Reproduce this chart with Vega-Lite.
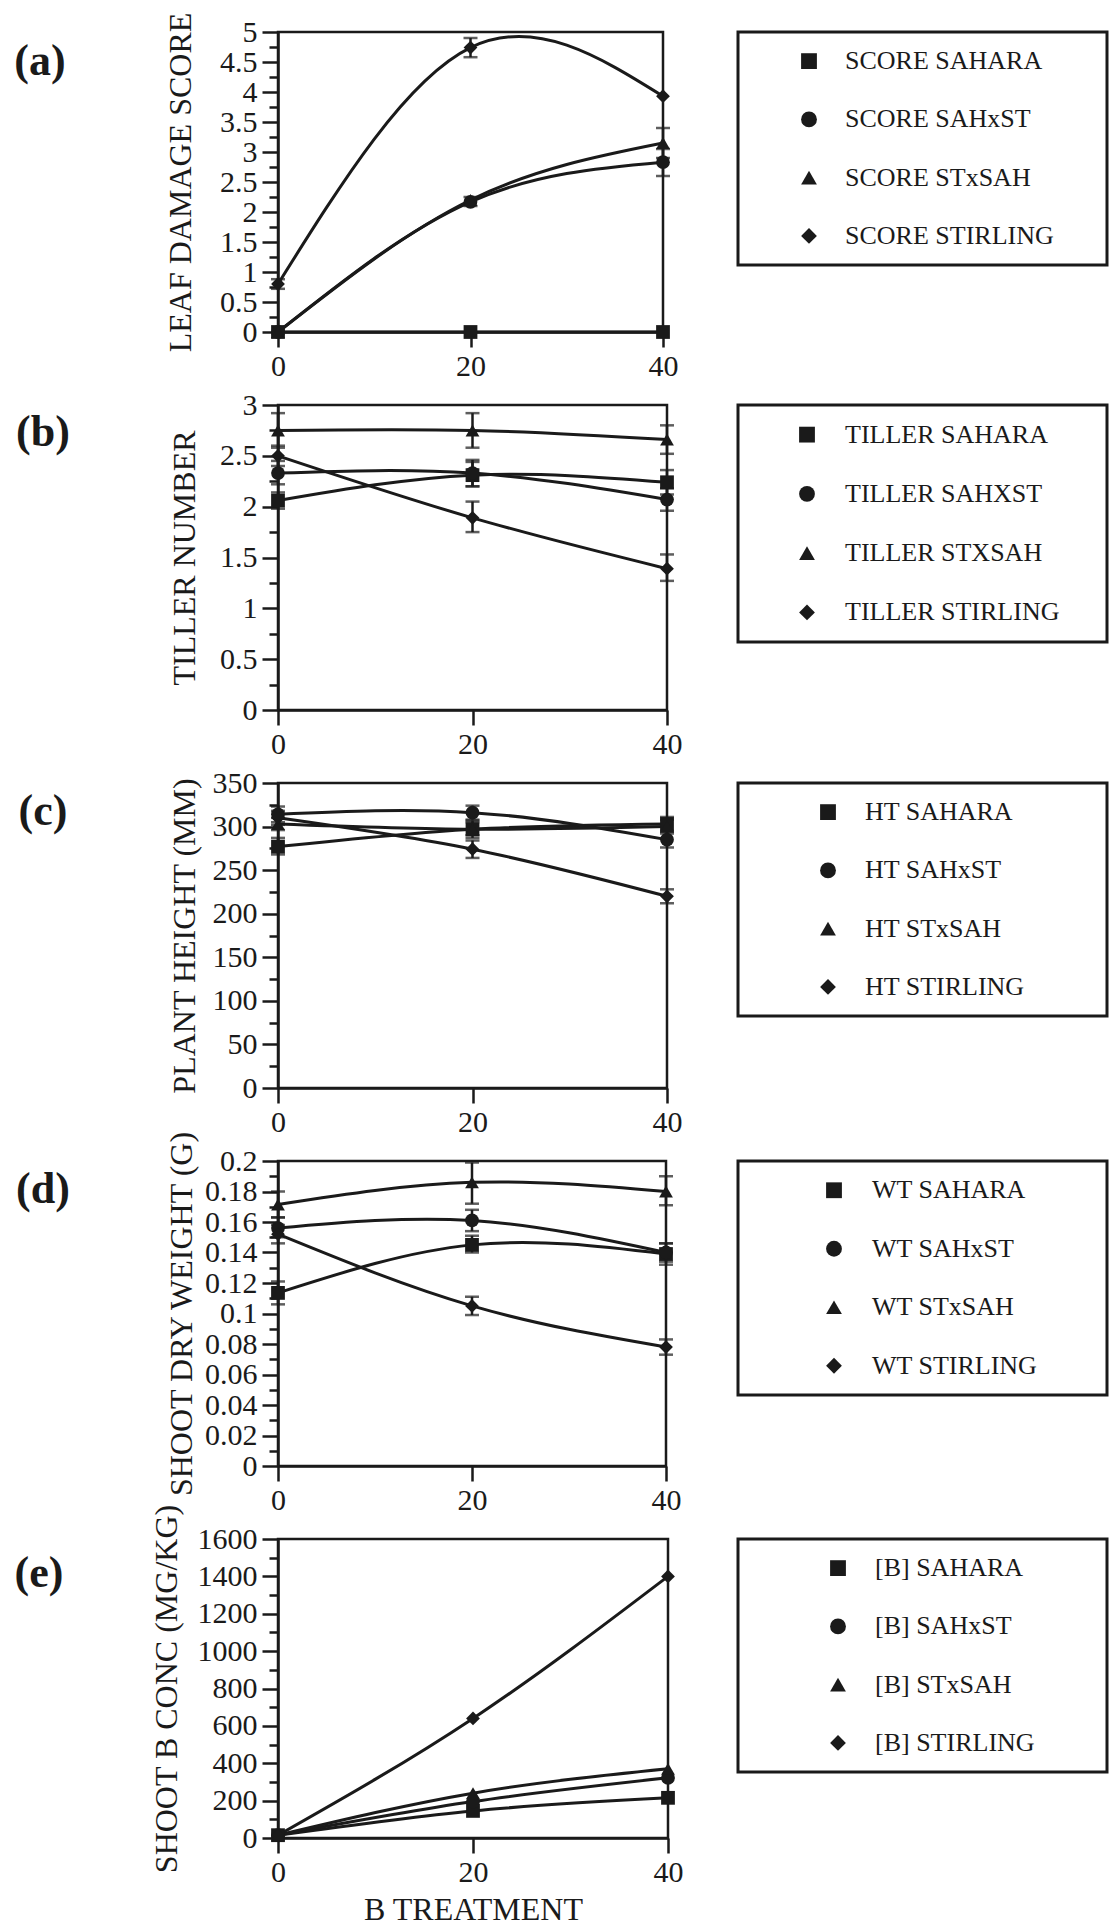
{
  "$schema": "https://vega.github.io/schema/vega-lite/v6.json",
  "padding": {"left": 0, "top": 10, "right": 0, "bottom": 0},
  "background": "white",
  "bounds": "flush",
  "columns": 3,
  "spacing": {"row": 73, "column": 70},
  "config": {
    "font": "Liberation Serif",
    "view": {"stroke": "#1a1a1a", "strokeWidth": 2.5},
    "axis": {"grid": false, "domainColor": "#1a1a1a", "domainWidth": 2.5, "tickColor": "#1a1a1a", "tickWidth": 2.5, "labelFont": "Liberation Serif", "labelFontSize": 30, "labelColor": "#1a1a1a", "titleFont": "Liberation Serif", "titleFontSize": 32, "titleFontWeight": "normal", "titleColor": "#1a1a1a", "labelFlush": false, "labelOverlap": false, "labelBound": false}
  },
  "concat": [
    {"width": 206, "height": 59, "view": {"stroke": "transparent"}, "data": {"values": [{"t": "(a)"}]}, "mark": {"type": "text", "font": "Liberation Serif", "fontSize": 44, "fontWeight": "bold", "color": "#1a1a1a", "align": "center", "baseline": "middle"}, "encoding": {"x": {"datum": 38, "type": "quantitative", "scale": {"domain": [0, 206], "nice": false}, "axis": null}, "text": {"field": "t"}}},
    {
      "width": 385, "height": 300,
      "data": {"values": [
        {"series": "SAHARA", "b": 0, "v": 0},
        {"series": "SAHARA", "b": 20, "v": 0},
        {"series": "SAHARA", "b": 40, "v": 0},
        {"series": "SAHxST", "b": 0, "v": 0},
        {"series": "SAHxST", "b": 20, "v": 2.17, "lo": 2.1, "hi": 2.25},
        {"series": "SAHxST", "b": 40, "v": 2.83, "lo": 2.6, "hi": 3.05},
        {"series": "STxSAH", "b": 0, "v": 0},
        {"series": "STxSAH", "b": 20, "v": 2.2},
        {"series": "STxSAH", "b": 40, "v": 3.15, "lo": 2.9, "hi": 3.4},
        {"series": "STIRLING", "b": 0, "v": 0.8, "lo": 0.72, "hi": 0.88},
        {"series": "STIRLING", "b": 20, "v": 4.74, "lo": 4.58, "hi": 4.9},
        {"series": "STIRLING", "b": 40, "v": 3.93}
      ]},
      "encoding": {
        "x": {"field": "b", "type": "quantitative", "scale": {"domain": [0, 40], "nice": false}, "axis": {"values": [0, 20, 40], "title": null, "tickSize": 15, "labelPadding": 4}},
        "y": {"field": "v", "type": "quantitative", "scale": {"domain": [0, 5], "nice": false}, "axis": {"title": "LEAF DAMAGE SCORE", "values": [0,0.25,0.5,0.75,1,1.25,1.5,1.75,2,2.25,2.5,2.75,3,3.25,3.5,3.75,4,4.25,4.5,4.75,5], "labelExpr": "abs(datum.value*2-round(datum.value*2))<0.001 ? '' + datum.value : ''", "tickSize": {"condition": {"test": "abs(datum.value*2-round(datum.value*2))<0.001", "value": 16}, "value": 9}, "labelPadding": 5, "titlePadding": 22}}
      },
      "layer": [
        {"mark": {"type": "line", "interpolate": "natural", "color": "#1a1a1a", "strokeWidth": 3}, "encoding": {"detail": {"field": "series"}}},
        {"transform": [{"filter": "isValid(datum.lo)"}], "mark": {"type": "errorbar", "ticks": true, "color": "#1a1a1a", "thickness": 2.5, "size": 14},
         "encoding": {"y": {"field": "lo", "type": "quantitative", "scale": {"domain": [0, 5], "nice": false}}, "y2": {"field": "hi"}}},
        {"mark": {"type": "point", "filled": true, "opacity": 1, "size": 190, "color": "#1a1a1a"},
         "encoding": {"shape": {"field": "series", "type": "nominal", "scale": {"domain": ["SAHARA", "SAHxST", "STxSAH", "STIRLING"], "range": ["square", "circle", "triangle-up", "diamond"]}, "legend": null}}}
      ]
    },
    {
      "width": 369, "height": 233, "view": {"stroke": "#1a1a1a", "strokeWidth": 3},
      "data": {"values": [
        {"series": "SAHARA", "label": "SCORE SAHARA"},
        {"series": "SAHxST", "label": "SCORE SAHxST"},
        {"series": "STxSAH", "label": "SCORE STxSAH"},
        {"series": "STIRLING", "label": "SCORE STIRLING"}
      ]},
      "encoding": {"y": {"field": "series", "type": "nominal", "scale": {"domain": ["SAHARA", "SAHxST", "STxSAH", "STIRLING"]}, "axis": null}},
      "layer": [
        {"mark": {"type": "point", "filled": true, "opacity": 1, "size": 250, "color": "#1a1a1a"},
         "encoding": {"x": {"datum": 71, "type": "quantitative", "scale": {"domain": [0, 369], "nice": false}, "axis": null}, "shape": {"field": "series", "type": "nominal", "scale": {"domain": ["SAHARA", "SAHxST", "STxSAH", "STIRLING"], "range": ["square", "circle", "triangle-up", "diamond"]}, "legend": null}}},
        {"mark": {"type": "text", "align": "left", "baseline": "middle", "font": "Liberation Serif", "fontSize": 26, "color": "#1a1a1a"},
         "encoding": {"x": {"datum": 107, "type": "quantitative", "scale": {"domain": [0, 369], "nice": false}, "axis": null}, "text": {"field": "label"}}}
      ]
    },
    {"width": 206, "height": 56, "view": {"stroke": "transparent"}, "data": {"values": [{"t": "(b)"}]}, "mark": {"type": "text", "font": "Liberation Serif", "fontSize": 44, "fontWeight": "bold", "color": "#1a1a1a", "align": "center", "baseline": "middle"}, "encoding": {"x": {"datum": 41, "type": "quantitative", "scale": {"domain": [0, 206], "nice": false}, "axis": null}, "text": {"field": "t"}}},
    {
      "width": 389, "height": 305,
      "data": {"values": [
        {"series": "SAHARA", "b": 0, "v": 2.06, "lo": 1.98, "hi": 2.14},
        {"series": "SAHARA", "b": 20, "v": 2.31, "lo": 2.2, "hi": 2.44},
        {"series": "SAHARA", "b": 40, "v": 2.24, "lo": 2.12, "hi": 2.36},
        {"series": "SAHxST", "b": 0, "v": 2.33, "lo": 2.22, "hi": 2.45},
        {"series": "SAHxST", "b": 20, "v": 2.33, "lo": 2.2, "hi": 2.46},
        {"series": "SAHxST", "b": 40, "v": 2.07, "lo": 1.96, "hi": 2.18},
        {"series": "STxSAH", "b": 0, "v": 2.75, "lo": 2.58, "hi": 2.92},
        {"series": "STxSAH", "b": 20, "v": 2.75, "lo": 2.58, "hi": 2.92},
        {"series": "STxSAH", "b": 40, "v": 2.66, "lo": 2.52, "hi": 2.8},
        {"series": "STIRLING", "b": 0, "v": 2.5, "lo": 2.4, "hi": 2.6},
        {"series": "STIRLING", "b": 20, "v": 1.89, "lo": 1.75, "hi": 2.05},
        {"series": "STIRLING", "b": 40, "v": 1.39, "lo": 1.27, "hi": 1.53}
      ]},
      "encoding": {
        "x": {"field": "b", "type": "quantitative", "scale": {"domain": [0, 40], "nice": false}, "axis": {"values": [0, 20, 40], "title": null, "tickSize": 15, "labelPadding": 4}},
        "y": {"field": "v", "type": "quantitative", "scale": {"domain": [0, 3], "nice": false}, "axis": {"title": "TILLER NUMBER", "values": [0,0.25,0.5,0.75,1,1.25,1.5,1.75,2,2.25,2.5,2.75,3], "labelExpr": "abs(datum.value*2-round(datum.value*2))<0.001 ? '' + datum.value : ''", "tickSize": {"condition": {"test": "abs(datum.value*2-round(datum.value*2))<0.001", "value": 16}, "value": 9}, "labelPadding": 5, "titlePadding": 18}}
      },
      "layer": [
        {"mark": {"type": "line", "interpolate": "natural", "color": "#1a1a1a", "strokeWidth": 3}, "encoding": {"detail": {"field": "series"}}},
        {"transform": [{"filter": "isValid(datum.lo)"}], "mark": {"type": "errorbar", "ticks": true, "color": "#1a1a1a", "thickness": 2.5, "size": 14},
         "encoding": {"y": {"field": "lo", "type": "quantitative", "scale": {"domain": [0, 3], "nice": false}}, "y2": {"field": "hi"}}},
        {"mark": {"type": "point", "filled": true, "opacity": 1, "size": 190, "color": "#1a1a1a"},
         "encoding": {"shape": {"field": "series", "type": "nominal", "scale": {"domain": ["SAHARA", "SAHxST", "STxSAH", "STIRLING"], "range": ["square", "circle", "triangle-up", "diamond"]}, "legend": null}}}
      ]
    },
    {
      "width": 369, "height": 237, "view": {"stroke": "#1a1a1a", "strokeWidth": 3},
      "data": {"values": [
        {"series": "SAHARA", "label": "TILLER SAHARA"},
        {"series": "SAHxST", "label": "TILLER SAHXST"},
        {"series": "STxSAH", "label": "TILLER STXSAH"},
        {"series": "STIRLING", "label": "TILLER STIRLING"}
      ]},
      "encoding": {"y": {"field": "series", "type": "nominal", "scale": {"domain": ["SAHARA", "SAHxST", "STxSAH", "STIRLING"]}, "axis": null}},
      "layer": [
        {"mark": {"type": "point", "filled": true, "opacity": 1, "size": 250, "color": "#1a1a1a"},
         "encoding": {"x": {"datum": 69, "type": "quantitative", "scale": {"domain": [0, 369], "nice": false}, "axis": null}, "shape": {"field": "series", "type": "nominal", "scale": {"domain": ["SAHARA", "SAHxST", "STxSAH", "STIRLING"], "range": ["square", "circle", "triangle-up", "diamond"]}, "legend": null}}},
        {"mark": {"type": "text", "align": "left", "baseline": "middle", "font": "Liberation Serif", "fontSize": 26, "color": "#1a1a1a"},
         "encoding": {"x": {"datum": 107, "type": "quantitative", "scale": {"domain": [0, 369], "nice": false}, "axis": null}, "text": {"field": "label"}}}
      ]
    },
    {"width": 206, "height": 58, "view": {"stroke": "transparent"}, "data": {"values": [{"t": "(c)"}]}, "mark": {"type": "text", "font": "Liberation Serif", "fontSize": 44, "fontWeight": "bold", "color": "#1a1a1a", "align": "center", "baseline": "middle"}, "encoding": {"x": {"datum": 41, "type": "quantitative", "scale": {"domain": [0, 206], "nice": false}, "axis": null}, "text": {"field": "t"}}},
    {
      "width": 389, "height": 305,
      "data": {"values": [
        {"series": "SAHARA", "b": 0, "v": 277, "lo": 268, "hi": 287},
        {"series": "SAHARA", "b": 20, "v": 297, "lo": 287, "hi": 307},
        {"series": "SAHARA", "b": 40, "v": 303, "lo": 295, "hi": 311},
        {"series": "SAHxST", "b": 0, "v": 314, "lo": 305, "hi": 323},
        {"series": "SAHxST", "b": 20, "v": 316, "lo": 308, "hi": 324},
        {"series": "SAHxST", "b": 40, "v": 285, "lo": 276, "hi": 294},
        {"series": "STxSAH", "b": 0, "v": 303, "lo": 296, "hi": 310},
        {"series": "STxSAH", "b": 20, "v": 297, "lo": 290, "hi": 305},
        {"series": "STxSAH", "b": 40, "v": 300, "lo": 292, "hi": 308},
        {"series": "STIRLING", "b": 0, "v": 310, "lo": 302, "hi": 318},
        {"series": "STIRLING", "b": 20, "v": 274, "lo": 264, "hi": 284},
        {"series": "STIRLING", "b": 40, "v": 220, "lo": 212, "hi": 228}
      ]},
      "encoding": {
        "x": {"field": "b", "type": "quantitative", "scale": {"domain": [0, 40], "nice": false}, "axis": {"values": [0, 20, 40], "title": null, "tickSize": 15, "labelPadding": 4}},
        "y": {"field": "v", "type": "quantitative", "scale": {"domain": [0, 350], "nice": false}, "axis": {"title": "PLANT HEIGHT (MM)", "values": [0,25,50,75,100,125,150,175,200,225,250,275,300,325,350], "labelExpr": "datum.value % 50 == 0 ? '' + datum.value : ''", "tickSize": {"condition": {"test": "datum.value % 50 == 0", "value": 16}, "value": 9}, "labelPadding": 5, "titlePadding": 11}}
      },
      "layer": [
        {"mark": {"type": "line", "interpolate": "natural", "color": "#1a1a1a", "strokeWidth": 3}, "encoding": {"detail": {"field": "series"}}},
        {"transform": [{"filter": "isValid(datum.lo)"}], "mark": {"type": "errorbar", "ticks": true, "color": "#1a1a1a", "thickness": 2.5, "size": 14},
         "encoding": {"y": {"field": "lo", "type": "quantitative", "scale": {"domain": [0, 350], "nice": false}}, "y2": {"field": "hi"}}},
        {"mark": {"type": "point", "filled": true, "opacity": 1, "size": 190, "color": "#1a1a1a"},
         "encoding": {"shape": {"field": "series", "type": "nominal", "scale": {"domain": ["SAHARA", "SAHxST", "STxSAH", "STIRLING"], "range": ["square", "circle", "triangle-up", "diamond"]}, "legend": null}}}
      ]
    },
    {
      "width": 369, "height": 233, "view": {"stroke": "#1a1a1a", "strokeWidth": 3},
      "data": {"values": [
        {"series": "SAHARA", "label": "HT SAHARA"},
        {"series": "SAHxST", "label": "HT SAHxST"},
        {"series": "STxSAH", "label": "HT STxSAH"},
        {"series": "STIRLING", "label": "HT STIRLING"}
      ]},
      "encoding": {"y": {"field": "series", "type": "nominal", "scale": {"domain": ["SAHARA", "SAHxST", "STxSAH", "STIRLING"]}, "axis": null}},
      "layer": [
        {"mark": {"type": "point", "filled": true, "opacity": 1, "size": 250, "color": "#1a1a1a"},
         "encoding": {"x": {"datum": 90, "type": "quantitative", "scale": {"domain": [0, 369], "nice": false}, "axis": null}, "shape": {"field": "series", "type": "nominal", "scale": {"domain": ["SAHARA", "SAHxST", "STxSAH", "STIRLING"], "range": ["square", "circle", "triangle-up", "diamond"]}, "legend": null}}},
        {"mark": {"type": "text", "align": "left", "baseline": "middle", "font": "Liberation Serif", "fontSize": 26, "color": "#1a1a1a"},
         "encoding": {"x": {"datum": 127, "type": "quantitative", "scale": {"domain": [0, 369], "nice": false}, "axis": null}, "text": {"field": "label"}}}
      ]
    },
    {"width": 206, "height": 58, "view": {"stroke": "transparent"}, "data": {"values": [{"t": "(d)"}]}, "mark": {"type": "text", "font": "Liberation Serif", "fontSize": 44, "fontWeight": "bold", "color": "#1a1a1a", "align": "center", "baseline": "middle"}, "encoding": {"x": {"datum": 41, "type": "quantitative", "scale": {"domain": [0, 206], "nice": false}, "axis": null}, "text": {"field": "t"}}},
    {
      "width": 388, "height": 305,
      "data": {"values": [
        {"series": "SAHARA", "b": 0, "v": 0.1135, "lo": 0.106, "hi": 0.121},
        {"series": "SAHARA", "b": 20, "v": 0.145, "lo": 0.14, "hi": 0.151},
        {"series": "SAHARA", "b": 40, "v": 0.139, "lo": 0.132, "hi": 0.146},
        {"series": "SAHxST", "b": 0, "v": 0.156, "lo": 0.15, "hi": 0.163},
        {"series": "SAHxST", "b": 20, "v": 0.161, "lo": 0.154, "hi": 0.168},
        {"series": "SAHxST", "b": 40, "v": 0.14, "lo": 0.134, "hi": 0.146},
        {"series": "STxSAH", "b": 0, "v": 0.1715, "lo": 0.163, "hi": 0.18},
        {"series": "STxSAH", "b": 20, "v": 0.186, "lo": 0.172, "hi": 0.199},
        {"series": "STxSAH", "b": 40, "v": 0.18, "lo": 0.171, "hi": 0.19},
        {"series": "STIRLING", "b": 0, "v": 0.152, "lo": 0.146, "hi": 0.158},
        {"series": "STIRLING", "b": 20, "v": 0.105, "lo": 0.099, "hi": 0.111},
        {"series": "STIRLING", "b": 40, "v": 0.078, "lo": 0.073, "hi": 0.083}
      ]},
      "encoding": {
        "x": {"field": "b", "type": "quantitative", "scale": {"domain": [0, 40], "nice": false}, "axis": {"values": [0, 20, 40], "title": null, "tickSize": 15, "labelPadding": 4}},
        "y": {"field": "v", "type": "quantitative", "scale": {"domain": [0, 0.2], "nice": false}, "axis": {"title": "SHOOT DRY WEIGHT (G)", "values": [0,0.01,0.02,0.03,0.04,0.05,0.06,0.07,0.08,0.09,0.1,0.11,0.12,0.13,0.14,0.15,0.16,0.17,0.18,0.19,0.2], "labelExpr": "abs(datum.value*50-round(datum.value*50))<0.001 ? '' + datum.value : ''", "tickSize": {"condition": {"test": "abs(datum.value*50-round(datum.value*50))<0.001", "value": 16}, "value": 9}, "labelPadding": 5, "titlePadding": 6}}
      },
      "layer": [
        {"mark": {"type": "line", "interpolate": "natural", "color": "#1a1a1a", "strokeWidth": 3}, "encoding": {"detail": {"field": "series"}}},
        {"transform": [{"filter": "isValid(datum.lo)"}], "mark": {"type": "errorbar", "ticks": true, "color": "#1a1a1a", "thickness": 2.5, "size": 14},
         "encoding": {"y": {"field": "lo", "type": "quantitative", "scale": {"domain": [0, 0.2], "nice": false}}, "y2": {"field": "hi"}}},
        {"mark": {"type": "point", "filled": true, "opacity": 1, "size": 190, "color": "#1a1a1a"},
         "encoding": {"shape": {"field": "series", "type": "nominal", "scale": {"domain": ["SAHARA", "SAHxST", "STxSAH", "STIRLING"], "range": ["square", "circle", "triangle-up", "diamond"]}, "legend": null}}}
      ]
    },
    {
      "width": 369, "height": 234, "view": {"stroke": "#1a1a1a", "strokeWidth": 3},
      "data": {"values": [
        {"series": "SAHARA", "label": "WT SAHARA"},
        {"series": "SAHxST", "label": "WT SAHxST"},
        {"series": "STxSAH", "label": "WT STxSAH"},
        {"series": "STIRLING", "label": "WT STIRLING"}
      ]},
      "encoding": {"y": {"field": "series", "type": "nominal", "scale": {"domain": ["SAHARA", "SAHxST", "STxSAH", "STIRLING"]}, "axis": null}},
      "layer": [
        {"mark": {"type": "point", "filled": true, "opacity": 1, "size": 250, "color": "#1a1a1a"},
         "encoding": {"x": {"datum": 96, "type": "quantitative", "scale": {"domain": [0, 369], "nice": false}, "axis": null}, "shape": {"field": "series", "type": "nominal", "scale": {"domain": ["SAHARA", "SAHxST", "STxSAH", "STIRLING"], "range": ["square", "circle", "triangle-up", "diamond"]}, "legend": null}}},
        {"mark": {"type": "text", "align": "left", "baseline": "middle", "font": "Liberation Serif", "fontSize": 26, "color": "#1a1a1a"},
         "encoding": {"x": {"datum": 134, "type": "quantitative", "scale": {"domain": [0, 369], "nice": false}, "axis": null}, "text": {"field": "label"}}}
      ]
    },
    {"width": 206, "height": 70, "view": {"stroke": "transparent"}, "data": {"values": [{"t": "(e)"}]}, "mark": {"type": "text", "font": "Liberation Serif", "fontSize": 44, "fontWeight": "bold", "color": "#1a1a1a", "align": "center", "baseline": "middle"}, "encoding": {"x": {"datum": 37, "type": "quantitative", "scale": {"domain": [0, 206], "nice": false}, "axis": null}, "text": {"field": "t"}}},
    {
      "width": 390, "height": 299,
      "data": {"values": [
        {"series": "SAHARA", "b": 0, "v": 15},
        {"series": "SAHARA", "b": 20, "v": 145},
        {"series": "SAHARA", "b": 40, "v": 215},
        {"series": "SAHxST", "b": 0, "v": 15},
        {"series": "SAHxST", "b": 20, "v": 195},
        {"series": "SAHxST", "b": 40, "v": 322},
        {"series": "STxSAH", "b": 0, "v": 15},
        {"series": "STxSAH", "b": 20, "v": 240},
        {"series": "STxSAH", "b": 40, "v": 370},
        {"series": "STIRLING", "b": 0, "v": 15},
        {"series": "STIRLING", "b": 20, "v": 640},
        {"series": "STIRLING", "b": 40, "v": 1400}
      ]},
      "encoding": {
        "x": {"field": "b", "type": "quantitative", "scale": {"domain": [0, 40], "nice": false}, "axis": {"values": [0, 20, 40], "title": "B TREATMENT", "titleFontSize": 32, "titlePadding": 7, "tickSize": 15, "labelPadding": 4}},
        "y": {"field": "v", "type": "quantitative", "scale": {"domain": [0, 1600], "nice": false}, "axis": {"title": "SHOOT B CONC (MG/KG)", "values": [0,100,200,300,400,500,600,700,800,900,1000,1100,1200,1300,1400,1500,1600], "labelExpr": "datum.value % 200 == 0 ? '' + datum.value : ''", "tickSize": {"condition": {"test": "datum.value % 200 == 0", "value": 16}, "value": 9}, "labelPadding": 5, "titlePadding": 14}}
      },
      "layer": [
        {"mark": {"type": "line", "interpolate": "natural", "color": "#1a1a1a", "strokeWidth": 3}, "encoding": {"detail": {"field": "series"}}},
        {"mark": {"type": "point", "filled": true, "opacity": 1, "size": 190, "color": "#1a1a1a"},
         "encoding": {"shape": {"field": "series", "type": "nominal", "scale": {"domain": ["SAHARA", "SAHxST", "STxSAH", "STIRLING"], "range": ["square", "circle", "triangle-up", "diamond"]}, "legend": null}}}
      ]
    },
    {
      "width": 369, "height": 233, "view": {"stroke": "#1a1a1a", "strokeWidth": 3},
      "data": {"values": [
        {"series": "SAHARA", "label": "[B] SAHARA"},
        {"series": "SAHxST", "label": "[B] SAHxST"},
        {"series": "STxSAH", "label": "[B] STxSAH"},
        {"series": "STIRLING", "label": "[B] STIRLING"}
      ]},
      "encoding": {"y": {"field": "series", "type": "nominal", "scale": {"domain": ["SAHARA", "SAHxST", "STxSAH", "STIRLING"]}, "axis": null}},
      "layer": [
        {"mark": {"type": "point", "filled": true, "opacity": 1, "size": 250, "color": "#1a1a1a"},
         "encoding": {"x": {"datum": 100, "type": "quantitative", "scale": {"domain": [0, 369], "nice": false}, "axis": null}, "shape": {"field": "series", "type": "nominal", "scale": {"domain": ["SAHARA", "SAHxST", "STxSAH", "STIRLING"], "range": ["square", "circle", "triangle-up", "diamond"]}, "legend": null}}},
        {"mark": {"type": "text", "align": "left", "baseline": "middle", "font": "Liberation Serif", "fontSize": 26, "color": "#1a1a1a"},
         "encoding": {"x": {"datum": 137, "type": "quantitative", "scale": {"domain": [0, 369], "nice": false}, "axis": null}, "text": {"field": "label"}}}
      ]
    }
  ]
}
